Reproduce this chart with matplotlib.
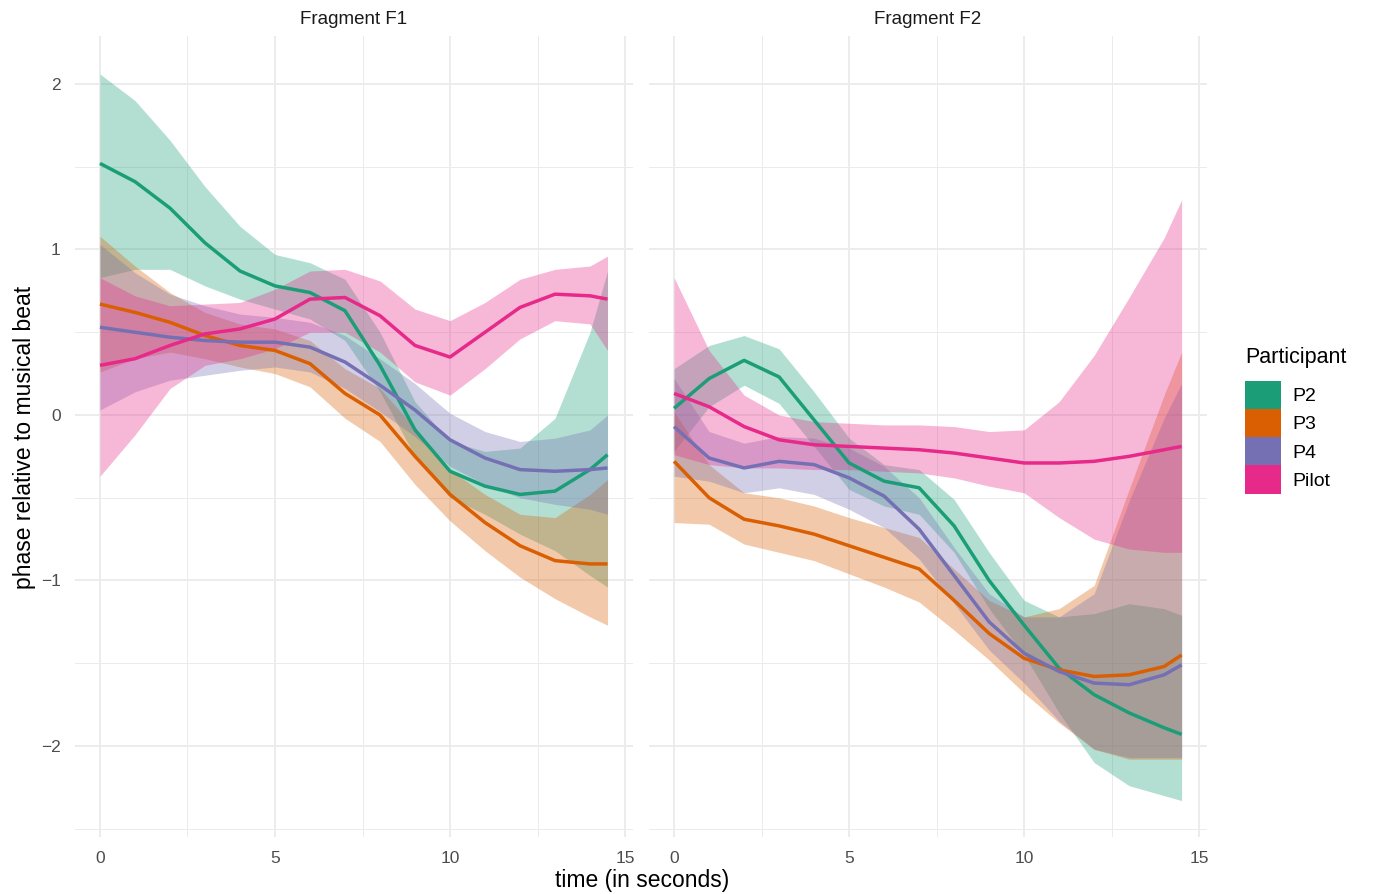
import numpy as np
import matplotlib
matplotlib.use("Agg")
import matplotlib.pyplot as plt
from matplotlib.patches import Patch

plt.rcParams['font.family'] = ['Liberation Sans', 'DejaVu Sans']

# time grid (seconds) shared by every smoother
t = [0, 1, 2, 3, 4, 5, 6, 7, 8, 9, 10, 11, 12, 13, 14, 14.5]

participants = ['P2', 'P3', 'P4', 'Pilot']
colors = ['#1B9E77', '#D95F02', '#7570B3', '#E7298A']
panels = ['Fragment F1', 'Fragment F2']

# ---- Fragment F1 ----
f1_p2_mean = [1.52, 1.41, 1.25, 1.04, 0.87, 0.78, 0.74, 0.63, 0.30, -0.09, -0.34, -0.43, -0.48, -0.46, -0.33, -0.24]
f1_p2_lo = [0.83, 0.88, 0.88, 0.78, 0.70, 0.64, 0.58, 0.45, 0.14, -0.25, -0.50, -0.60, -0.72, -0.82, -0.97, -1.04]
f1_p2_hi = [2.06, 1.90, 1.66, 1.38, 1.14, 0.97, 0.92, 0.82, 0.50, 0.08, -0.16, -0.22, -0.20, -0.02, 0.50, 0.87]

f1_p3_mean = [0.67, 0.62, 0.56, 0.48, 0.42, 0.39, 0.31, 0.13, 0.00, -0.25, -0.48, -0.65, -0.79, -0.88, -0.90, -0.90]
f1_p3_lo = [0.26, 0.34, 0.38, 0.34, 0.29, 0.25, 0.17, -0.02, -0.16, -0.42, -0.64, -0.82, -0.98, -1.11, -1.22, -1.27]
f1_p3_hi = [1.08, 0.90, 0.74, 0.62, 0.55, 0.52, 0.45, 0.28, 0.16, -0.08, -0.33, -0.48, -0.60, -0.62, -0.48, -0.39]

f1_p4_mean = [0.53, 0.50, 0.47, 0.45, 0.44, 0.44, 0.41, 0.32, 0.18, 0.03, -0.15, -0.26, -0.33, -0.34, -0.33, -0.32]
f1_p4_lo = [0.03, 0.14, 0.21, 0.24, 0.27, 0.29, 0.26, 0.16, 0.02, -0.13, -0.31, -0.42, -0.50, -0.54, -0.57, -0.60]
f1_p4_hi = [1.03, 0.86, 0.73, 0.66, 0.61, 0.59, 0.56, 0.48, 0.34, 0.19, 0.01, -0.10, -0.16, -0.14, -0.09, 0.00]

f1_pilot_mean = [0.30, 0.34, 0.42, 0.49, 0.52, 0.58, 0.70, 0.71, 0.60, 0.42, 0.35, 0.50, 0.65, 0.73, 0.72, 0.70]
f1_pilot_lo = [-0.37, -0.12, 0.16, 0.30, 0.34, 0.40, 0.50, 0.50, 0.38, 0.20, 0.12, 0.28, 0.46, 0.57, 0.55, 0.39]
f1_pilot_hi = [0.83, 0.72, 0.66, 0.67, 0.68, 0.76, 0.87, 0.88, 0.81, 0.64, 0.57, 0.68, 0.82, 0.88, 0.90, 0.96]

# ---- Fragment F2 ----
f2_p2_mean = [0.04, 0.22, 0.33, 0.23, -0.03, -0.29, -0.40, -0.44, -0.67, -1.00, -1.27, -1.53, -1.69, -1.80, -1.89, -1.93]
f2_p2_lo = [-0.22, 0.05, 0.18, 0.07, -0.19, -0.45, -0.55, -0.60, -0.83, -1.17, -1.45, -1.80, -2.10, -2.24, -2.30, -2.33]
f2_p2_hi = [0.28, 0.42, 0.48, 0.40, 0.14, -0.14, -0.30, -0.33, -0.51, -0.83, -1.12, -1.22, -1.20, -1.14, -1.17, -1.21]

f2_p3_mean = [-0.28, -0.50, -0.63, -0.67, -0.72, -0.79, -0.86, -0.93, -1.12, -1.32, -1.47, -1.54, -1.58, -1.57, -1.52, -1.45]
f2_p3_lo = [-0.65, -0.66, -0.78, -0.83, -0.88, -0.96, -1.04, -1.13, -1.30, -1.48, -1.68, -1.86, -2.02, -2.08, -2.08, -2.08]
f2_p3_hi = [0.02, -0.30, -0.47, -0.50, -0.55, -0.62, -0.68, -0.74, -0.93, -1.12, -1.22, -1.17, -1.03, -0.45, 0.12, 0.38]

f2_p4_mean = [-0.07, -0.26, -0.32, -0.28, -0.30, -0.38, -0.49, -0.69, -0.97, -1.25, -1.44, -1.55, -1.62, -1.63, -1.57, -1.51]
f2_p4_lo = [-0.37, -0.40, -0.47, -0.44, -0.48, -0.57, -0.68, -0.87, -1.14, -1.42, -1.62, -1.85, -2.02, -2.07, -2.07, -2.07]
f2_p4_hi = [0.22, -0.10, -0.17, -0.13, -0.14, -0.20, -0.31, -0.50, -0.80, -1.08, -1.22, -1.22, -1.08, -0.52, -0.02, 0.19]

f2_pilot_mean = [0.13, 0.05, -0.07, -0.15, -0.18, -0.19, -0.20, -0.21, -0.23, -0.26, -0.29, -0.29, -0.28, -0.25, -0.21, -0.19]
f2_pilot_lo = [-0.24, -0.30, -0.32, -0.32, -0.33, -0.33, -0.34, -0.35, -0.38, -0.43, -0.47, -0.62, -0.75, -0.81, -0.83, -0.83]
f2_pilot_hi = [0.83, 0.39, 0.12, 0.00, -0.04, -0.05, -0.06, -0.06, -0.07, -0.10, -0.09, 0.08, 0.36, 0.71, 1.07, 1.30]

series = {
    'Fragment F1': [(f1_p2_mean, f1_p2_lo, f1_p2_hi), (f1_p3_mean, f1_p3_lo, f1_p3_hi),
                    (f1_p4_mean, f1_p4_lo, f1_p4_hi), (f1_pilot_mean, f1_pilot_lo, f1_pilot_hi)],
    'Fragment F2': [(f2_p2_mean, f2_p2_lo, f2_p2_hi), (f2_p3_mean, f2_p3_lo, f2_p3_hi),
                    (f2_p4_mean, f2_p4_lo, f2_p4_hi), (f2_pilot_mean, f2_pilot_lo, f2_pilot_hi)],
}

W, H = 1374, 894
fig = plt.figure(figsize=(W / 100, H / 100), dpi=100)

# panel geometry in pixels (left edge, width, top, bottom)
panel_left = [74.6, 648.7]
panel_w = 558.3
top_px, bot_px = 36.0, 837.0

grid_col = '#EBEBEB'
text_col = '#4D4D4D'

axes = []
for i, name in enumerate(panels):
    ax = fig.add_axes([panel_left[i] / W, 1 - bot_px / H, panel_w / W, (bot_px - top_px) / H])
    ax.set_xlim(-0.725, 15.225)
    ax.set_ylim(-2.55, 2.29)
    ax.set_axisbelow(True)
    for s in ax.spines.values():
        s.set_visible(False)
    ax.set_xticks([0, 5, 10, 15])
    ax.set_xticks([2.5, 7.5, 12.5], minor=True)
    ax.set_yticks([-2, -1, 0, 1, 2])
    ax.set_yticks([-2.5, -1.5, -0.5, 0.5, 1.5], minor=True)
    ax.grid(which='major', color=grid_col, linewidth=1.3)
    ax.grid(which='minor', color=grid_col, linewidth=0.7)
    ax.tick_params(which='both', length=0, labelsize=12.5, labelcolor=text_col, pad=10)
    ax.set_yticklabels(['\u22122', '\u22121', '0', '1', '2'])
    if i == 1:
        ax.tick_params(axis='y', labelleft=False)

    # each participant: ribbon then line, like geom_smooth draws per group
    for (mean, lo, hi), c in zip(series[name], colors):
        ax.fill_between(t, lo, hi, color=c, alpha=0.33, linewidth=0)
        ax.plot(t, mean, color=c, linewidth=2.5, solid_capstyle='butt', solid_joinstyle='round')

    ax.text(0.5, 1 + 17 / (bot_px - top_px), name, transform=ax.transAxes,
            ha='center', va='center', fontsize=13.5, color='#1A1A1A')
    axes.append(ax)

fig.text(642 / W, 1 - 881 / H, 'time (in seconds)', ha='center', va='center', fontsize=16.5)
fig.text(25 / W, 1 - 437 / H, 'phase relative to musical beat', ha='center', va='center',
         rotation=90, fontsize=16.5)

# legend
fig.text(1245 / W, 1 - 358 / H, 'Participant', ha='left', va='center', fontsize=15.5)
handles = [Patch(facecolor=c, edgecolor='none') for c in colors]
fig.legend(handles, participants, loc='upper left', bbox_to_anchor=(1245 / W, 1 - 381 / H),
           frameon=False, fontsize=14, handlelength=1.85, handleheight=1.85,
           handletextpad=0.6, labelspacing=0.0, borderpad=0, borderaxespad=0)

fig.savefig('out.png', dpi=100, facecolor='white')
